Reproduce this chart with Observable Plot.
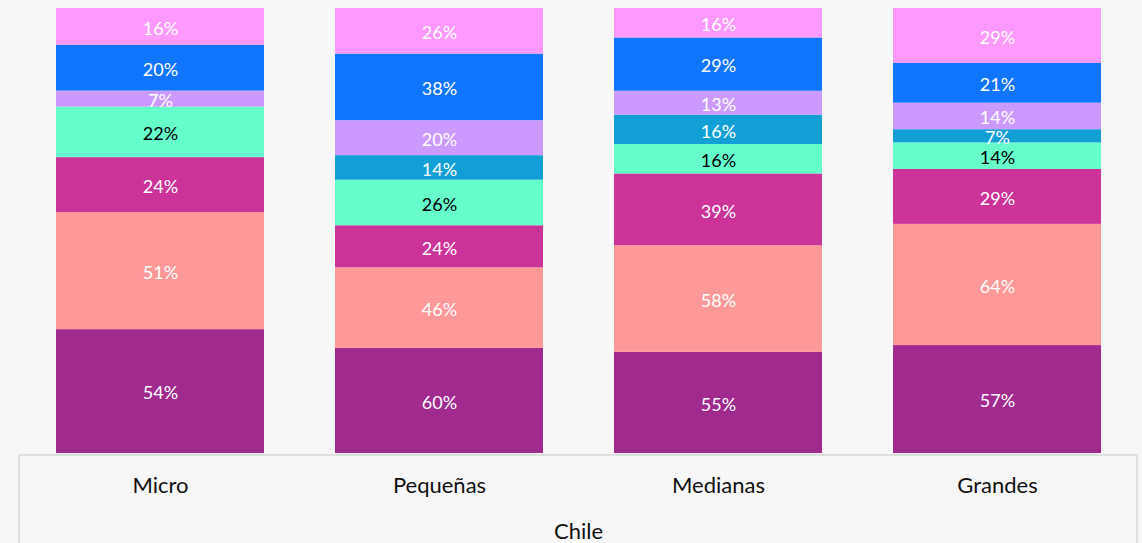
<!DOCTYPE html>
<html>
<head>
<meta charset="utf-8">
<script src="https://cdn.jsdelivr.net/npm/d3@7"></script>
<script src="https://cdn.jsdelivr.net/npm/@observablehq/plot@0.6"></script>
<style>
  html, body { margin: 0; padding: 0; background: #F7F7F7; }
  #chart svg { display: block; }
</style>
</head>
<body>
<div id="chart"></div>
<script>
const categorias = ["Micro", "Pequeñas", "Medianas", "Grandes"];
const series = ["Serie 1", "Serie 2", "Serie 3", "Serie 4", "Serie 5", "Serie 6", "Serie 7", "Serie 8"];
const serie1 = [54, 60, 55, 57];
const serie2 = [51, 46, 58, 64];
const serie3 = [24, 24, 39, 29];
const serie4 = [22, 26, 16, 14];
const serie5 = [0, 14, 16, 7];
const serie6 = [7, 20, 13, 14];
const serie7 = [20, 38, 29, 21];
const serie8 = [16, 26, 16, 29];
const colores = ["#A12A8F", "#FF9999", "#CC3399", "#66FFCC", "#119FD6", "#CC99FF", "#0F75FF", "#FF99FF"];
const colorTexto = ["white", "white", "white", "black", "white", "white", "white", "white"];
const pais = "Chile";

const valores = [serie1, serie2, serie3, serie4, serie5, serie6, serie7, serie8];
const data = [];
categorias.forEach((c, i) => {
  series.forEach((s, j) => {
    data.push({cat: c, serie: s, value: valores[j][i], tc: colorTexto[j]});
  });
});

const W = 1142, H = 543;
const mL = 19, mR = 5, mT = 8, mB = 90;

const chart = Plot.plot({
  width: W,
  height: H,
  marginLeft: mL,
  marginRight: mR,
  marginTop: mT,
  marginBottom: mB,
  style: {background: "#F7F7F7", fontFamily: "Lato, sans-serif"},
  x: {domain: categorias, paddingInner: 0.255, paddingOuter: 0.1275, label: null},
  y: {axis: null},
  color: {domain: series, range: colores},
  marks: [
    Plot.barY(data, Plot.stackY({x: "cat", y: "value", fill: "serie", order: null, offset: "normalize"})),
    Plot.text(data, Plot.stackY({
      x: "cat", y: "value", z: "serie", order: null, offset: "normalize",
      filter: d => d.value > 0,
      text: d => d.value + "%",
      fill: "tc",
      fontSize: 18,
      dy: 2
    })),
    Plot.ruleY([0], {stroke: "#D9D9D9", strokeWidth: 1.5, dy: 1.5}),
    Plot.axisX({tickSize: 0, tickPadding: 24, fontSize: 22, color: "#111", label: null}),
    Plot.text([pais], {frameAnchor: "bottom", dy: 85, fontSize: 22, fill: "#111"})
  ]
});

document.getElementById("chart").appendChild(chart);

// side borders of the category box
const svg = d3.select(chart);
svg.append("path")
  .attr("d", `M${mL},${H - mB + 1.5}V${H} M${W - mR},${H - mB + 1.5}V${H}`)
  .attr("stroke", "#D9D9D9")
  .attr("stroke-width", 1.5)
  .attr("fill", "none");
</script>
</body>
</html>
